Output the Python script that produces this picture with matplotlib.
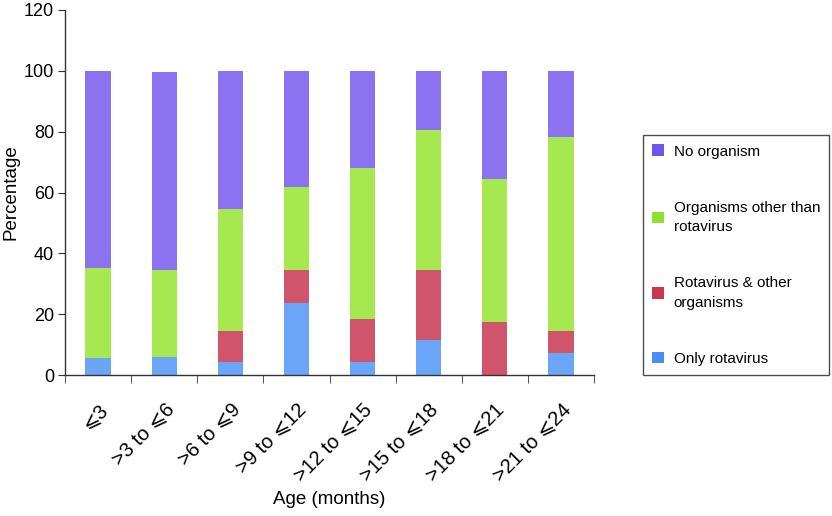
import matplotlib
matplotlib.use("Agg")
import matplotlib.pyplot as plt
from matplotlib.patches import Patch
import numpy as np

plt.rcParams['font.family'] = ['Liberation Sans', 'DejaVu Sans']

categories = ["⩽3", ">3 to ⩽6", ">6 to ⩽9", ">9 to ⩽12", ">12 to ⩽15", ">15 to ⩽18", ">18 to ⩽21", ">21 to ⩽24"]
only_rota = [5.5, 6.0, 4.4, 23.8, 4.4, 11.6, 0.0, 7.1]
rota_other = [0.0, 0.0, 10.0, 10.7, 13.9, 22.9, 17.4, 7.3]
other_org = [29.8, 28.5, 40.3, 27.4, 49.8, 46.1, 47.2, 63.9]
no_org = [64.7, 65.2, 45.3, 38.1, 31.9, 19.4, 35.4, 21.7]
series_labels = ["Only rotavirus", "Rotavirus & other\norganisms", "Organisms other than\nrotavirus", "No organism"]
colors = ["#6aa5f8", "#d0546a", "#a6e850", "#8b72f0"]
legend_colors = ["#4a8cf5", "#c8374f", "#8ee22f", "#6f55ee"]

fig = plt.figure(figsize=(8.32, 5.16), dpi=100)
ax = fig.add_axes([65/832, 1-375/516, (594-65)/832, (375-10)/516])

x = np.arange(len(categories))
bottom = np.zeros(len(categories))
for vals, c in zip([only_rota, rota_other, other_org, no_org], colors):
    ax.bar(x, vals, width=0.38, bottom=bottom, color=c, linewidth=0)
    bottom += np.array(vals)

ax.set_xlim(-0.5, len(categories) - 0.5)
ax.set_ylim(0, 120)
ax.set_yticks(np.arange(0, 121, 20))
ax.spines['top'].set_visible(False)
ax.spines['right'].set_visible(False)
for s in ['left', 'bottom']:
    ax.spines[s].set_linewidth(1.0)
    ax.spines[s].set_color('#333333')
ax.tick_params(axis='y', labelsize=13, length=5, direction='out', color='#333333', pad=3)
ax.set_xticks(x)
ax.set_xticklabels(categories, rotation=45, ha='right', rotation_mode='anchor', fontsize=14.5)
ax.tick_params(axis='x', which='major', length=0, pad=18)
ax.set_xticks(np.arange(-0.5, len(categories), 1), minor=True)
ax.tick_params(axis='x', which='minor', length=6, direction='out', color='#333333')
ax.set_ylabel("Percentage", fontsize=13.5, labelpad=3)
ax.set_xlabel("Age (months)", fontsize=13.5, labelpad=4)

handles = [Patch(facecolor=c, edgecolor='none') for c in legend_colors[::-1]]
leg = fig.legend(handles, series_labels[::-1], loc='lower left',
                 bbox_to_anchor=(643/832, 1-375/516), frameon=True, fancybox=False,
                 edgecolor='#222222', fontsize=11, labelspacing=2.75,
                 handlelength=0.8, handleheight=0.8, handletextpad=0.6,
                 borderpad=0.6, borderaxespad=0)
leg.get_frame().set_linewidth(1.0)
for t in leg.get_texts():
    t.set_linespacing(1.5)

fig.savefig("out.png", dpi=100)
